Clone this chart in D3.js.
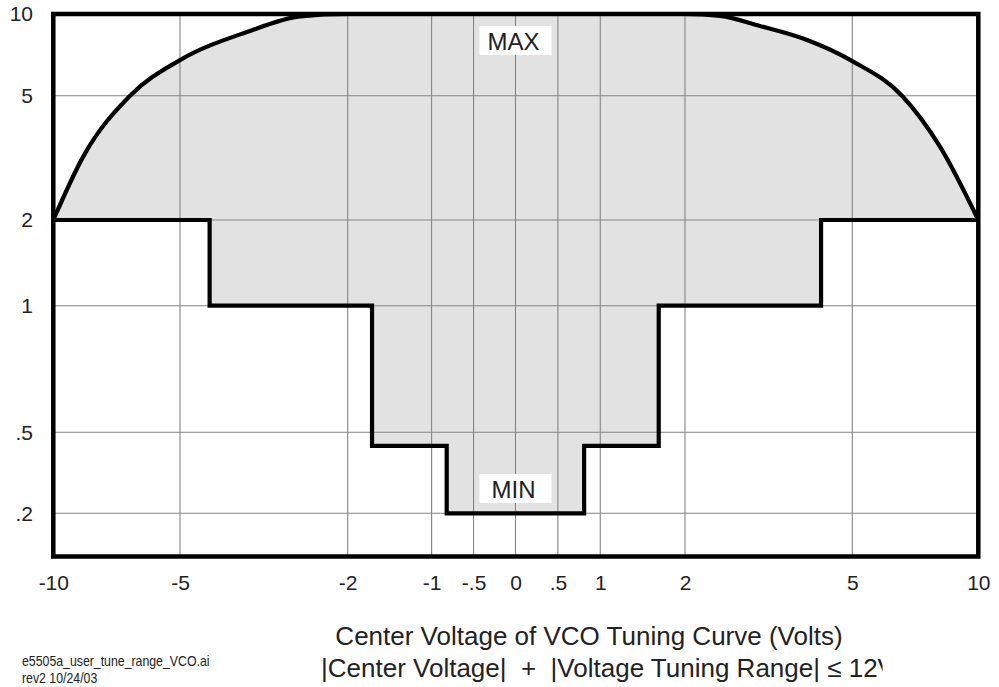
<!DOCTYPE html>
<html><head><meta charset="utf-8">
<script src="https://cdn.jsdelivr.net/npm/d3@7"></script>
<style>
html,body{margin:0;padding:0;background:#fff;}
svg{display:block;font-family:"Liberation Sans","Helvetica",Arial,sans-serif;}
</style></head>
<body>
<svg id="chart" width="999" height="687"></svg>
<script>
// ---- data ----
const xTicks = [-10, -5, -2, -1, -0.5, 0, 0.5, 1, 2, 5, 10];
const xTickLabels = ["-10", "-5", "-2", "-1", "-.5", "0", ".5", "1", "2", "5", "10"];
const yTicks = [0.2, 0.5, 1, 2, 5, 10];
const yTickLabels = [".2", ".5", "1", "2", "5", "10"];

// MAX curve (center voltage, tuning range)
const maxX = [-10, -8.82, -6.97, -5.0, -3.8, -2.85, -2,
              2, 2.63, 3.34, 4.19, 5.0, 6.97, 8.48, 10];
const maxY = [2, 3.53, 5, 7.18, 8.9, 9.86, 10,
              10, 9.88, 9.27, 8.41, 7.12, 5, 3.77, 2];

// MIN step function
const minEdges = [-10, -4.47, -1.71, -0.82, 0.81, 1.69, 4.44, 10];
const minValues = [2, 1, 0.45, 0.2, 0.45, 1, 2];

const labelNames = ["MAX", "MIN"];
const labelX = [0, 0];
const labelY = [8.35, 0.29];

const titleLines = ["Center Voltage of VCO Tuning Curve (Volts)",
                    "|Center Voltage|  +  |Voltage Tuning Range| \u2264 12V"];
const footerLines = ["e5505a_user_tune_range_VCO.ai", "rev2 10/24/03"];

// ---- scales ----
const x = d3.scaleLinear()
  .domain([-10, -5, -2, 0, 2, 5, 10])
  .range([53.3, 180, 347.7, 515.5, 685, 852.3, 978.3]);
const y = d3.scaleLinear()
  .domain([0.1, 0.2, 0.5, 1, 2, 5, 10])
  .range([556.5, 513.3, 432.3, 305.7, 220, 95.7, 14]);

const svg = d3.select("#chart");

// ---- build geometry ----
const maxPts = maxX.map((v, i) => [v, maxY[i]]);
const minPts = [];
minValues.forEach((v, i) => {
  minPts.push([minEdges[i], v]);
  minPts.push([minEdges[i + 1], v]);
});

const maxLine = d3.line().x(d => x(d[0])).y(d => y(d[1])).curve(d3.curveMonotoneX);
const minLine = d3.line().x(d => x(d[0])).y(d => y(d[1]));

const fillPath = maxLine(maxPts) + minLine(minPts.slice().reverse()).replace(/^M/, "L") + "Z";

// fill
svg.append("path").attr("d", fillPath).attr("fill", "#e2e2e2").attr("stroke", "none");

// grid
const grid = svg.append("g").attr("stroke", "#858585").attr("stroke-width", 1.1);
grid.selectAll("line.v").data(xTicks.filter(t => t !== -10 && t !== 10)).join("line")
  .attr("x1", d => x(d)).attr("x2", d => x(d))
  .attr("y1", y(10)).attr("y2", y(0.1));
grid.selectAll("line.h").data(yTicks.filter(t => t !== 10)).join("line")
  .attr("y1", d => y(d)).attr("y2", d => y(d))
  .attr("x1", x(-10)).attr("x2", x(10));

// label boxes
const labels = svg.append("g");
labelNames.forEach((name, i) => {
  const cx = x(labelX[i]), cy = y(labelY[i]);
  labels.append("rect").attr("x", cx - 36).attr("y", cy - 15).attr("width", 72).attr("height", 29)
    .attr("fill", "#fff");
  labels.append("text").attr("x", cx - 2).attr("y", cy + 9).attr("text-anchor", "middle")
    .attr("font-size", 24).attr("fill", "#222").text(name);
});

// curves
svg.append("path").attr("d", maxLine(maxPts)).attr("fill", "none")
  .attr("stroke", "#000").attr("stroke-width", 4.2).attr("stroke-linejoin", "round");
svg.append("path").attr("d", minLine(minPts)).attr("fill", "none")
  .attr("stroke", "#000").attr("stroke-width", 4.2).attr("stroke-linejoin", "miter");

// frame
svg.append("rect").attr("x", x(-10)).attr("y", y(10))
  .attr("width", x(10) - x(-10)).attr("height", y(0.1) - y(10))
  .attr("fill", "none").attr("stroke", "#000").attr("stroke-width", 4.5);

// axes labels
const xAxis = d3.axisBottom(x).tickValues(xTicks).tickFormat((d, i) => xTickLabels[i]).tickSize(0).tickPadding(0);
const gx = svg.append("g").attr("transform", "translate(0,575)").call(xAxis);
gx.select(".domain").remove();
gx.selectAll("text").attr("font-size", 21).attr("fill", "#222").attr("font-family", "Liberation Sans").attr("dy", "0.71em");

const yAxis = d3.axisLeft(y).tickValues(yTicks).tickFormat((d, i) => yTickLabels[i]).tickSize(0).tickPadding(0);
const gy = svg.append("g").attr("transform", "translate(33,0)").call(yAxis);
gy.select(".domain").remove();
gy.selectAll("text").attr("font-size", 21).attr("fill", "#222").attr("font-family", "Liberation Sans");

// title
const clipRect = svg.append("defs").append("clipPath").attr("id", "clipT")
  .append("rect").attr("x", 0).attr("y", 600).attr("width", 999).attr("height", 87);
const tg = svg.append("g").attr("clip-path", "url(#clipT)");
tg.append("text").attr("x", 589).attr("y", 645).attr("text-anchor", "middle")
  .attr("font-size", 26).attr("fill", "#222").text(titleLines[0]);
const t2 = tg.append("text").attr("x", 321).attr("y", 677).attr("text-anchor", "start")
  .attr("font-size", 26).attr("fill", "#222").style("white-space", "pre").text(titleLines[1]);
// clip just after the start of the final "V" (as in the reference artwork)
try {
  const n = titleLines[1].length;
  const vStart = t2.node().getStartPositionOfChar(n - 1).x;
  clipRect.attr("width", vStart + 5);
} catch (e) { clipRect.attr("width", 879); }

// footer
footerLines.forEach((t, i) => {
  svg.append("text").attr("transform", `translate(22,${666 + i * 17}) scale(0.88,1)`)
    .attr("font-size", 14).attr("fill", "#222").text(t);
});
</script>
</body></html>
